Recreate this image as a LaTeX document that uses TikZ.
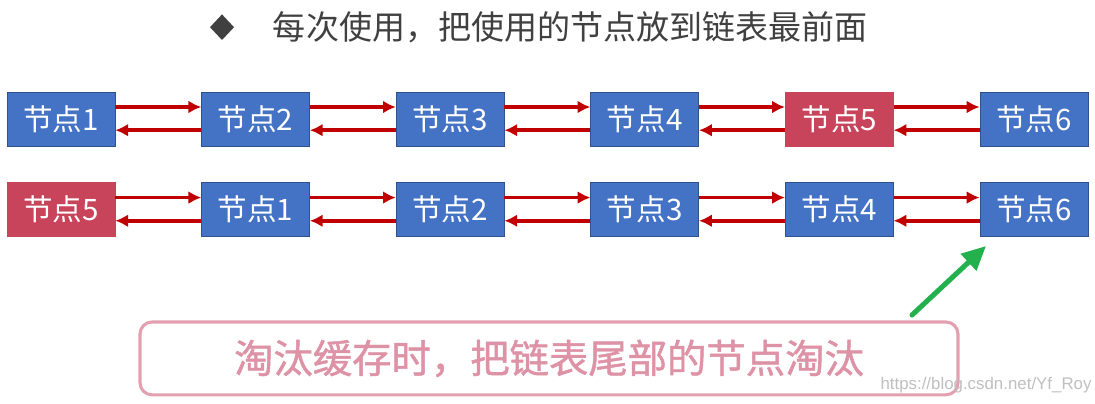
\documentclass[tikz,border=0pt]{standalone}
\usepackage{fontspec}
\setmainfont{Noto Sans CJK SC}
\newfontfamily\notefont[FakeBold=1.2]{Noto Sans CJK SC}
\newfontfamily\markfont{Liberation Sans}
\usetikzlibrary{arrows.meta,positioning,shapes.geometric}

\definecolor{nodeblue}{RGB}{68,114,196}
\definecolor{nodeedge}{RGB}{47,82,143}
\definecolor{nodered}{RGB}{200,68,90}
\definecolor{linkred}{RGB}{192,0,0}
\definecolor{titlegray}{RGB}{64,64,64}
\definecolor{notepink}{RGB}{226,160,176}
\definecolor{notetext}{RGB}{222,146,166}
\definecolor{tipgreen}{RGB}{34,177,76}

\begin{document}
\begin{tikzpicture}[
  node distance=9mm and 21.5mm,
  cell/.style={draw=nodeedge, fill=nodeblue, text=white, inner sep=0pt,
    minimum width=27mm, minimum height=13.5mm,
    font=\fontsize{21}{25}\selectfont},
  hot/.style={cell, draw=nodered, fill=nodered},
  fwd/.style={-{Latex[length=3.2mm, width=3.2mm]}, line width=2.5pt, draw=linkred},
  note/.style={draw=notepink, line width=2.2pt, rounded corners=3mm,
    minimum width=204.5mm, minimum height=18.2mm, text=notetext,
    font=\notefont\fontsize{28}{32}\selectfont}
]
\useasboundingbox (0,0) rectangle (27.375,-10.075);

% title line
\coordinate (bullet) at (5.55,-0.68);
\fill[titlegray] ([xshift=-3mm]bullet) -- ([yshift=3.2mm]bullet)
  -- ([xshift=3mm]bullet) -- ([yshift=-3.2mm]bullet) -- cycle;
\node[anchor=west, text=titlegray, font=\fontsize{23.5}{28}\selectfont]
  (title) at (6.7,-0.68) {每次使用，把使用的节点放到链表最前面};

% list before the access
\node[cell] (old1) at (1.525,-2.975) {节点1};
\node[cell, right=of old1] (old2) {节点2};
\node[cell, right=of old2] (old3) {节点3};
\node[cell, right=of old3] (old4) {节点4};
\node[hot, right=of old4] (old5) {节点5};
\node[cell, right=of old5] (old6) {节点6};

% list after the access
\node[hot, below=of old1] (new5) {节点5};
\node[cell, right=of new5] (new1) {节点1};
\node[cell, right=of new1] (new2) {节点2};
\node[cell, right=of new2] (new3) {节点3};
\node[cell, right=of new3] (new4) {节点4};
\node[cell, right=of new4] (new6) {节点6};

\foreach \a/\b in {old1/old2, old2/old3, old3/old4, old4/old5, old5/old6,
                   new5/new1, new1/new2, new2/new3, new3/new4, new4/new6} {
  \draw[fwd] ([yshift=3mm]\a.east) -- ([yshift=3mm]\b.west);
  \draw[fwd] ([yshift=-2.8mm]\b.west) -- ([yshift=-2.8mm]\a.east);
}

% eviction note
\node[note] (evict) at (13.725,-8.96) {淘汰缓存时，把链表尾部的节点淘汰};
\coordinate (tail) at (22.8,-7.875);
\coordinate (tip) at (24.65,-6.15);
\draw[-{Triangle[length=6mm, width=5.5mm]}, line width=3.6pt, line cap=round,
  draw=tipgreen, fill=tipgreen] (tail) -- (tip);

\node[text=black!25, font=\markfont\fontsize{12}{14}\selectfont]
  (mark) at (24.65,-9.62) {https://blog.csdn.net/Yf\_Roy};
\end{tikzpicture}
\end{document}
